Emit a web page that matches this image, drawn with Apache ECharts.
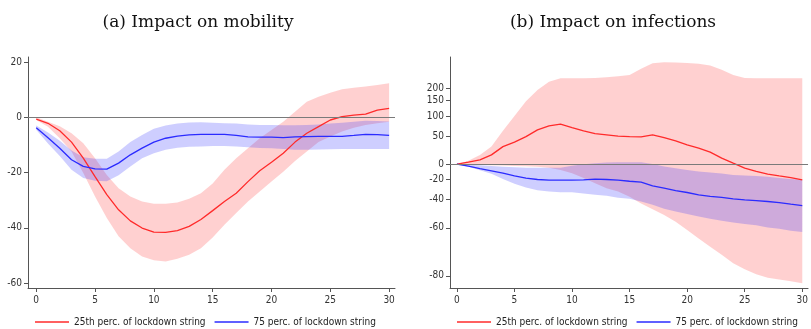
<!DOCTYPE html>
<html>
<head>
<meta charset="utf-8">
<script src="https://cdn.jsdelivr.net/npm/echarts@6/dist/echarts.min.js"></script>
<style>
  html, body {margin: 0; padding: 0; background: #fff;}
  #chart {width: 811px; height: 329px;}
</style>
</head>
<body>
<div id="chart"></div>
<script>
// days after lockdown
var days = [0,1,2,3,4,5,6,7,8,9,10,11,12,13,14,15,16,17,18,19,20,21,22,23,24,25,26,27,28,29,30];
var dayTicks = [0,5,10,15,20,25,30];

// (a) mobility
var mobRed   = [-0.7,-2.2,-4.9,-9,-14.8,-21.5,-28,-33.5,-37.5,-40.1,-41.6,-41.7,-41,-39.5,-37,-33.8,-30.5,-27.5,-23.3,-19.4,-16.3,-13,-9,-5.8,-3.4,-1,0.2,0.8,1.1,2.6,3.2];
var mobRedLo = [-1,-3.4,-7.6,-12.4,-20.2,-28.7,-36.5,-43.1,-47.4,-50.4,-51.8,-52.2,-51.2,-49.8,-47.4,-43.5,-38.9,-34.7,-30.5,-26.9,-23.3,-19.7,-15.8,-12.4,-9,-7,-5.2,-3.8,-2.8,-2.2,-1.6];
var mobRedHi = [0,-1.6,-3.3,-5.8,-9.4,-14.8,-20.9,-25.7,-28.7,-30.5,-31.3,-31.3,-30.9,-29.5,-27.5,-24,-19,-14.8,-11.2,-7.6,-4.6,-1.6,2,5.6,7.4,8.9,10.1,10.7,11.1,11.7,12.3];
var mobBlue   = [-3.8,-7.4,-11.2,-15.4,-17.8,-18.7,-18.8,-16.6,-13.6,-11.2,-9,-7.6,-6.8,-6.4,-6.2,-6.2,-6.2,-6.6,-7.1,-7.2,-7.2,-7.4,-7.1,-7,-6.9,-6.9,-6.9,-6.6,-6.2,-6.3,-6.6];
var mobBlueLo = [-4.5,-9.5,-14,-19,-22,-23,-23.2,-21,-17.8,-14.8,-13,-11.8,-11,-10.7,-10.6,-10.4,-10.4,-10.6,-10.9,-11.1,-11.2,-11.5,-11.8,-11.8,-11.7,-11.6,-11.5,-11.5,-11.5,-11.5,-11.5];
var mobBlueHi = [-3,-5.5,-8.5,-12,-14.5,-15,-15,-12.4,-9,-6.4,-4.2,-3,-2.3,-1.9,-1.8,-2,-2.2,-2.3,-2.6,-2.8,-2.8,-2.9,-2.9,-2.8,-2.6,-2.3,-2,-1.6,-1.3,-1.4,-1.5];
var mobTicks = [-60,-40,-20,0,20];

// (b) infections
var infRed   = [0,3,6.4,14.3,28.8,37.3,48.8,63.8,73.5,77.8,69.3,61.4,55.3,52.5,49.6,48.5,48,52.5,46.7,39.9,32,25.9,18.9,9,1.4,-5.6,-10,-13.4,-15.5,-17.5,-20.2];
var infRedLo = [0,-0.5,-1,-1.5,-2,-2.5,-3,-3.5,-5,-7.9,-12.2,-18.2,-23.9,-29.2,-32.6,-37.5,-43.3,-47.7,-52,-56.3,-61.3,-65.7,-69.6,-72.9,-76,-78,-79.5,-80.5,-81,-81.5,-82];
var infRedHi = [0,4.9,14.3,28.8,62,100,148,191,228,245,245,245,246,250,255,262,295,328,334,332,330,325,315,290,262,246,245,245,245,245,245];
var infBlue   = [0,-2.8,-6.1,-9.2,-12.2,-15.5,-18.2,-19.8,-20.6,-20.6,-20.6,-20.3,-19.4,-19.8,-20.6,-21.8,-22.8,-26.8,-29.2,-31.6,-33.5,-35.7,-37.2,-38.1,-39.3,-40.2,-40.8,-41.6,-42.5,-43.8,-44.9];
var infBlueLo = [0,-3.7,-8.3,-13,-19.1,-24.7,-28.6,-31.2,-32.6,-33.2,-33.2,-34.5,-35.7,-36.6,-38.4,-39.3,-41.6,-44.3,-47.4,-49.4,-51.3,-53,-54.5,-55.8,-56.8,-57.8,-58.5,-59.9,-60.6,-61.7,-62.4];
var infBlueHi = [0,-0.8,-1.5,-2.5,-3.7,-4.5,-5,-5,-5,-5,-2.4,0,1.5,2.6,2.9,2.9,2.9,0.2,-3.4,-5.6,-7.9,-10,-11.4,-12.6,-14.3,-15.1,-15.8,-16.7,-18.2,-19.3,-20.2];
var infTicks = [-80,-60,-40,-20,0,50,100,150,200];

var legendNames = ['25th perc. of lockdown string', '75 perc. of lockdown string'];
var RED = '#ff2b2b', BLUE = '#2b2bff';
var RED_BAND = 'rgba(255,40,40,0.22)', BLUE_BAND = 'rgba(50,50,255,0.24)';
var NARROW = "'Liberation Sans Narrow', 'Arial Narrow', 'DejaVu Sans Condensed', sans-serif";

// infections are shown on a log(1 + y/100) scale
var ident = function (v) { return v; };
var logPct = function (v) { return Math.log(1 + v / 100); };

function band(idx, lo, hi, color, tf) {
  return {
    type: 'custom',
    xAxisIndex: idx, yAxisIndex: idx,
    silent: true, z: 1, clip: true,
    data: days.map(function (d, i) { return [d, tf(lo[i]), tf(hi[i])]; }),
    encode: {x: 0, y: [1, 2]},
    renderItem: function (params, api) {
      if (params.dataIndex !== 0) return null;
      var pts = [];
      for (var i = 0; i < days.length; i++) pts.push(api.coord([days[i], tf(hi[i])]));
      for (var j = days.length - 1; j >= 0; j--) pts.push(api.coord([days[j], tf(lo[j])]));
      return {type: 'polygon', shape: {points: pts}, style: {fill: color}};
    }
  };
}

function line(idx, name, vals, color, tf, zero) {
  var s = {
    type: 'line', name: name,
    xAxisIndex: idx, yAxisIndex: idx,
    data: days.map(function (d, i) { return [d, tf(vals[i])]; }),
    symbol: 'none', z: 3,
    lineStyle: {color: color, width: 1.3},
    itemStyle: {color: color}
  };
  if (zero) {
    s.markLine = {
      silent: true, symbol: 'none', label: {show: false},
      lineStyle: {color: '#7a7a7a', width: 1, type: 'solid'},
      data: [{yAxis: 0}]
    };
  }
  return s;
}

function xAx(idx) {
  return {
    gridIndex: idx, type: 'value', min: idx ? -0.6 : -0.7, max: 30.5,
    axisLine: {onZero: false, lineStyle: {color: '#555'}},
    axisTick: {length: 4, lineStyle: {color: '#555'}, customValues: dayTicks},
    axisLabel: {customValues: dayTicks, color: '#333', fontSize: 10, fontFamily: NARROW, margin: 7},
    splitLine: {show: false}
  };
}

function legend(left) {
  return {
    data: legendNames, left: left, top: 317, width: 400, padding: 0,
    icon: 'rect', itemWidth: 34, itemHeight: 1.6, itemGap: 9,
    textStyle: {fontSize: 10, fontFamily: NARROW, color: '#222'}
  };
}

var titleFont = {fontFamily: 'DejaVu Serif', fontSize: 17, fontWeight: 'normal', color: '#111'};

var chart = echarts.init(document.getElementById('chart'));
chart.setOption({
  animation: false,
  title: [
    {text: '(a) Impact on mobility', left: 198, top: 14, textAlign: 'center', padding: 0, textStyle: titleFont},
    {text: '(b) Impact on infections', left: 613, top: 14, textAlign: 'center', padding: 0, textStyle: titleFont}
  ],
  legend: [legend(35), legend(457)],
  grid: [
    {left: 28, top: 57, width: 367, height: 231},
    {left: 450, top: 57, width: 363, height: 231}
  ],
  xAxis: [xAx(0), xAx(1)],
  yAxis: [
    {gridIndex: 0, type: 'value', min: -61.8, max: 21.8,
     axisLine: {show: true, onZero: false, lineStyle: {color: '#555'}},
     axisTick: {show: true, length: 4, lineStyle: {color: '#555'}, customValues: mobTicks},
     axisLabel: {customValues: mobTicks, color: '#333', fontSize: 10, fontFamily: NARROW, margin: 6},
     splitLine: {show: false}},
    {gridIndex: 1, type: 'value', min: -1.784, max: 1.544,
     axisLine: {show: true, onZero: false, lineStyle: {color: '#555'}},
     axisTick: {show: true, length: 4, lineStyle: {color: '#555'}, customValues: infTicks.map(logPct)},
     axisLabel: {customValues: infTicks.map(logPct), color: '#333', fontSize: 10, fontFamily: NARROW, margin: 6,
       formatter: function (v) { return String(Math.round(100 * (Math.exp(v) - 1))); }},
     splitLine: {show: false}}
  ],
  series: [
    band(0, mobRedLo, mobRedHi, RED_BAND, ident),
    band(0, mobBlueLo, mobBlueHi, BLUE_BAND, ident),
    line(0, legendNames[0], mobRed, RED, ident, true),
    line(0, legendNames[1], mobBlue, BLUE, ident, false),
    band(1, infRedLo, infRedHi, RED_BAND, logPct),
    band(1, infBlueLo, infBlueHi, BLUE_BAND, logPct),
    line(1, legendNames[0], infRed, RED, logPct, true),
    line(1, legendNames[1], infBlue, BLUE, logPct, false)
  ]
});
</script>
</body>
</html>
